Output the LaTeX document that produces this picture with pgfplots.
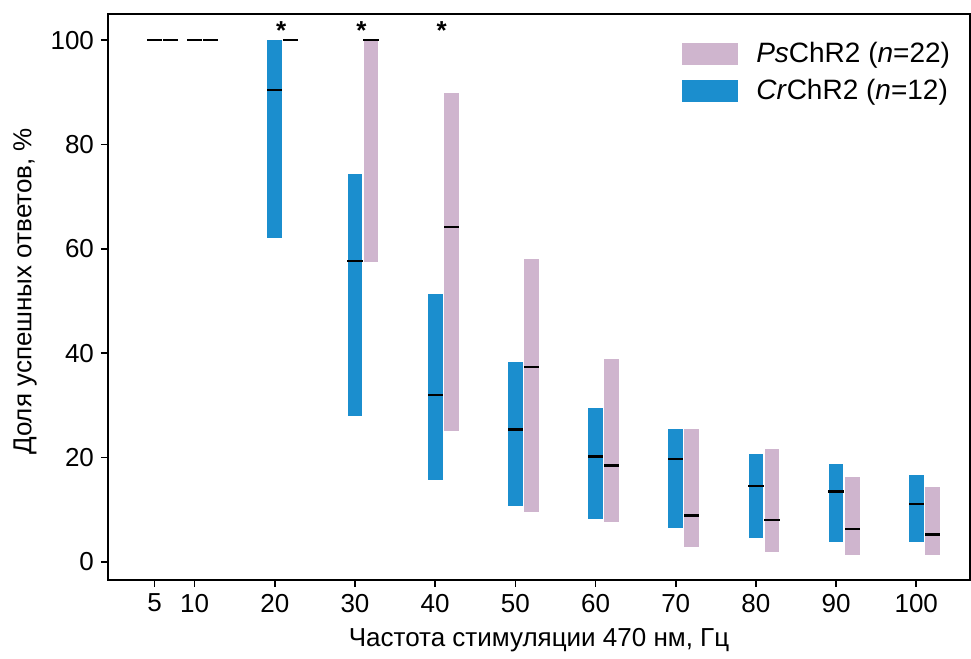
\documentclass[border=0pt]{standalone}
\usepackage{fontspec}
\setmainfont{Liberation Sans}
\usepackage{pgfplots}
\usepackage{pgfplotstable}
\pgfplotsset{compat=1.18}
\definecolor{crblue}{RGB}{27,142,206}
\definecolor{pspink}{RGB}{207,181,206}
\newcommand{\fs}{\fontsize{13}{15}\selectfont}
\newcommand{\fl}{\fontsize{14}{16}\selectfont}

% frequency, lower, upper, median (%)
\pgfplotstableread{
f   lo    hi    med
5   100   100   100
10  100   100   100
20  62.1  100   90.4
30  28.0  74.3  57.7
40  15.7  51.3  32.0
50  10.7  38.3  25.4
60  8.3   29.6  20.2
70  6.6   25.5  19.7
80  4.6   20.7  14.6
90  3.9   18.7  13.5
100 3.8   16.7  11.1
}\crdata
\pgfplotstableread{
f   lo    hi    med
5   100   100   100
10  100   100   100
20  100   100   100
30  57.4  100   100
40  25.1  89.9  64.2
50  9.6   58.0  37.4
60  7.6   38.8  18.5
70  2.8   25.5  8.9
80  1.9   21.6  8.0
90  1.4   16.2  6.3
100 1.3   14.4  5.3
}\psdata

\begin{document}
\begin{tikzpicture}
\begin{axis}[
  scale only axis,
  width=431pt, height=283pt,
  xmin=-0.8, xmax=106.7,
  ymin=-3.45, ymax=105,
  xtick={5,10,20,30,40,50,60,70,80,90,100},
  ytick={0,20,40,60,80,100},
  tick pos=left,
  tick align=outside,
  major tick length=3.5pt,
  tick style={black, line width=0.8pt},
  axis line style={line width=1pt},
  /pgf/number format/assume math mode=true,
  tick label style={font=\fs},
  label style={font=\fs},
  xlabel={Частота стимуляции 470 нм, Гц},
  ylabel={Доля успешных ответов, \%},
  xlabel style={at={(axis description cs:0.5,-0.106)}, anchor=center},
  ylabel style={at={(axis description cs:-0.0963,0.51)}, anchor=center},
  clip=false,
  legend style={at={(rel axis cs:0.666,0.958)}, anchor=north west,
    draw=none, fill=none, font=\fl, inner sep=0pt, row sep=3pt,
    column sep=7pt, cells={anchor=west}},
  legend image code/.code={\fill[#1] (0pt,-5.25pt) rectangle (27.5pt,5.25pt);},
]
\addlegendimage{pspink}
\addlegendentry{\textit{Ps}ChR2 (\textit{n}=22)}
\addlegendimage{crblue}
\addlegendentry{\textit{Cr}ChR2 (\textit{n}=12)}

% range bars
\addplot[forget plot, draw=none, no markers,
  error bars/.cd, y dir=both, y explicit, error mark=none,
  error bar style={draw=crblue, line width=7.4pt}]
  table[x=f, y expr=(\thisrow{lo}+\thisrow{hi})/2,
        y error expr=(\thisrow{hi}-\thisrow{lo})/2] {\crdata};
\addplot[forget plot, draw=none, no markers,
  error bars/.cd, y dir=both, y explicit, error mark=none,
  error bar style={draw=pspink, line width=7.4pt}]
  table[x expr=\thisrow{f}+2, y expr=(\thisrow{lo}+\thisrow{hi})/2,
        y error expr=(\thisrow{hi}-\thisrow{lo})/2] {\psdata};

% medians
\addplot[forget plot, draw=none, no markers,
  error bars/.cd, x dir=both, x fixed=0.95, error mark=none,
  error bar style={draw=black, line width=1.2pt}]
  table[x=f, y=med] {\crdata};
\addplot[forget plot, draw=none, no markers,
  error bars/.cd, x dir=both, x fixed=0.95, error mark=none,
  error bar style={draw=black, line width=1.2pt}]
  table[x expr=\thisrow{f}+2, y=med] {\psdata};

% significance marks
\addplot[forget plot, draw=none, no markers,
  nodes near coords={\textbf{*}},
  nodes near coords style={anchor=north, font=\fs, inner sep=0pt}]
  coordinates {(20.8,103.6) (30.8,103.6) (40.8,103.6)};
\end{axis}
\path (current axis.south west) ++(-54pt,-37.5pt) rectangle ++(485.5pt,327.5pt);
\end{tikzpicture}
\end{document}
